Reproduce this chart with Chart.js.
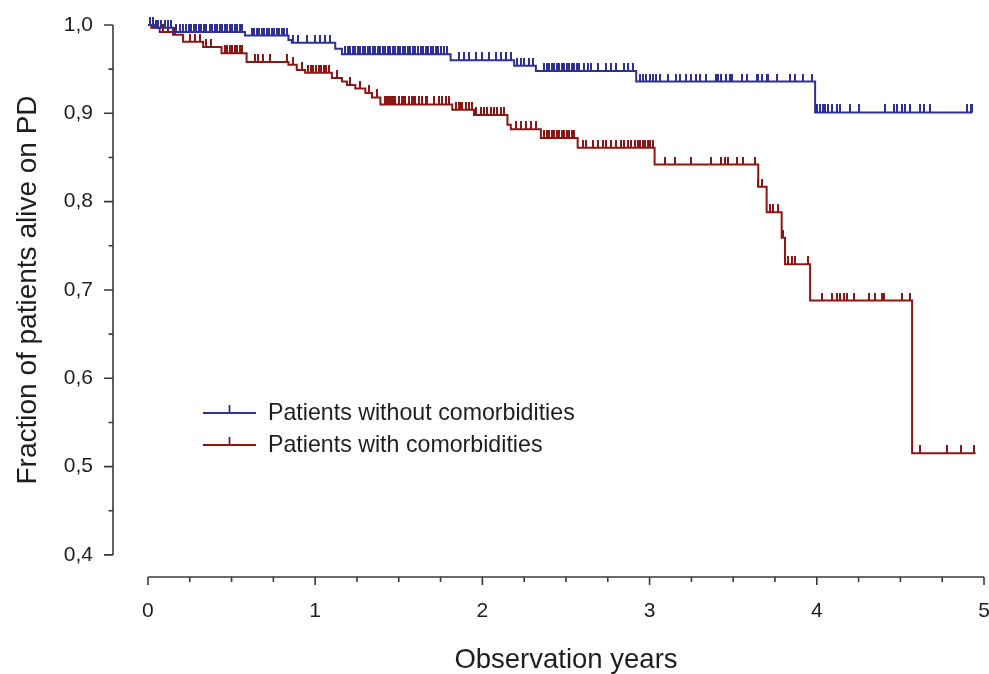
<!DOCTYPE html>
<html>
<head>
<meta charset="utf-8">
<script src="https://cdn.jsdelivr.net/npm/chart.js@4/dist/chart.umd.min.js"></script>
<style>
  html, body { margin: 0; padding: 0; background: #fff; }
  #wrap { width: 989px; height: 674px; position: relative; }
</style>
</head>
<body>
<div id="wrap"><canvas id="kmChart"></canvas></div>
<script>
// Kaplan-Meier steps: time of each drop (years) and survival after it
const blueTimes = [0, 0.04, 0.15, 0.58, 0.84, 0.86, 1.12, 1.16, 1.81, 2.19, 2.32, 2.92, 3.99];
const blueSurv  = [1.0, 0.997, 0.992, 0.988, 0.983, 0.980, 0.973, 0.967, 0.960, 0.954, 0.948, 0.936, 0.901];
const blueEnd = 4.93;

const redTimes = [0, 0.02, 0.07, 0.15, 0.21, 0.33, 0.44, 0.59, 0.84, 0.89, 0.94, 1.10, 1.16, 1.19, 1.24, 1.30,
                  1.34, 1.39, 1.82, 1.95, 2.15, 2.17, 2.35, 2.57, 3.03, 3.65, 3.70, 3.79, 3.81, 3.96, 4.57];
const redSurv  = [1.0, 0.997, 0.992, 0.989, 0.981, 0.975, 0.968, 0.958, 0.955, 0.949, 0.946, 0.940, 0.936, 0.932, 0.928, 0.923,
                  0.918, 0.910, 0.904, 0.898, 0.887, 0.882, 0.872, 0.861, 0.842, 0.817, 0.788, 0.759, 0.729, 0.688, 0.515];
const redEnd = 4.95;

// censored observations (years)
const blueCensor = [0.01, 0.03, 0.05, 0.06, 0.08, 0.10, 0.12, 0.14, 0.17, 0.19, 0.21, 0.23, 0.245, 0.26, 0.275,
  0.29, 0.305, 0.32, 0.335, 0.35, 0.37, 0.385, 0.40, 0.415, 0.43, 0.445, 0.46, 0.475, 0.49, 0.505, 0.52, 0.535,
  0.55, 0.565, 0.62, 0.635, 0.65, 0.665, 0.68, 0.695, 0.71, 0.725, 0.74, 0.755, 0.77, 0.785, 0.80, 0.815, 0.83,
  0.87, 0.90, 0.95, 1.00, 1.03, 1.06, 1.09, 1.18, 1.195, 1.21, 1.225, 1.24, 1.255, 1.27, 1.285, 1.30, 1.315,
  1.33, 1.345, 1.36, 1.375, 1.39, 1.405, 1.42, 1.435, 1.45, 1.465, 1.48, 1.495, 1.51, 1.525, 1.54, 1.555, 1.57,
  1.585, 1.60, 1.615, 1.63, 1.645, 1.66, 1.675, 1.69, 1.705, 1.72, 1.735, 1.75, 1.77, 1.79, 1.86, 1.89, 1.92,
  1.96, 2.00, 2.04, 2.08, 2.11, 2.14, 2.17, 2.21, 2.23, 2.25, 2.28, 2.30, 2.37, 2.385, 2.40, 2.415, 2.43, 2.445,
  2.46, 2.475, 2.49, 2.505, 2.52, 2.535, 2.55, 2.565, 2.58, 2.61, 2.63, 2.65, 2.69, 2.74, 2.77, 2.80, 2.85,
  2.87, 2.90, 2.94, 2.96, 2.98, 3.00, 3.02, 3.04, 3.06, 3.11, 3.16, 3.18, 3.22, 3.25, 3.28, 3.30, 3.34, 3.40,
  3.41, 3.43, 3.46, 3.48, 3.49, 3.55, 3.58, 3.64, 3.65, 3.67, 3.70, 3.71, 3.76, 3.84, 3.87, 3.92, 3.97, 4.00,
  4.02, 4.04, 4.05, 4.07, 4.09, 4.12, 4.14, 4.20, 4.25, 4.41, 4.46, 4.48, 4.51, 4.53, 4.56, 4.62, 4.64, 4.68,
  4.90, 4.92, 4.93];
const redCensor = [0.01, 0.03, 0.06, 0.09, 0.12, 0.16, 0.25, 0.28, 0.31, 0.35, 0.38, 0.46, 0.475, 0.49, 0.505,
  0.52, 0.535, 0.55, 0.565, 0.64, 0.66, 0.69, 0.73, 0.83, 0.87, 0.92, 0.96, 0.975, 0.99, 1.005, 1.02, 1.035,
  1.05, 1.065, 1.08, 1.13, 1.21, 1.27, 1.32, 1.37, 1.42, 1.43, 1.44, 1.45, 1.46, 1.47, 1.48, 1.50, 1.52, 1.53,
  1.54, 1.56, 1.58, 1.59, 1.60, 1.62, 1.64, 1.66, 1.67, 1.71, 1.74, 1.76, 1.78, 1.80, 1.84, 1.86, 1.87, 1.88,
  1.90, 1.92, 1.94, 1.96, 1.99, 2.01, 2.03, 2.05, 2.07, 2.09, 2.11, 2.13, 2.20, 2.23, 2.26, 2.29, 2.32, 2.37,
  2.385, 2.40, 2.415, 2.43, 2.445, 2.46, 2.475, 2.49, 2.505, 2.52, 2.535, 2.55, 2.60, 2.62, 2.66, 2.69, 2.72,
  2.74, 2.77, 2.80, 2.83, 2.85, 2.87, 2.89, 2.91, 2.93, 2.945, 2.96, 2.975, 2.99, 3.005, 3.02, 3.09, 3.15,
  3.25, 3.37, 3.43, 3.45, 3.47, 3.52, 3.56, 3.63, 3.65, 3.67, 3.72, 3.74, 3.77, 3.80, 3.83, 3.85, 3.87, 3.95,
  4.03, 4.09, 4.12, 4.14, 4.16, 4.18, 4.22, 4.31, 4.35, 4.39, 4.40, 4.51, 4.56, 4.62, 4.78, 4.86, 4.94];

const seriesLabels = ['Patients without comorbidities', 'Patients with comorbidities'];

// axis ticks
const xTicks = [0, 1, 2, 3, 4, 5];
const xTickLabels = ['0', '1', '2', '3', '4', '5'];
const xMinor = [0.25, 0.5, 0.75, 1.25, 1.5, 1.75, 2.25, 2.5, 2.75, 3.25, 3.5, 3.75, 4.25, 4.5, 4.75];
const yTicks = [0.4, 0.5, 0.6, 0.7, 0.8, 0.9, 1.0];
const yTickLabels = ['0,4', '0,5', '0,6', '0,7', '0,8', '0,9', '1,0'];
const yMinor = [0.45, 0.55, 0.65, 0.75, 0.85, 0.95];

const BLUE = '#2e3192';
const RED = '#8c1616';
const AXIS = '#3a3a3a';
const TEXT = '#1e1e1e';
const FONT = '"Liberation Sans", Arial, sans-serif';

function stepData(times, surv, end) {
    const pts = times.map(function (t, i) { return { x: t, y: surv[i] }; });
    pts.push({ x: end, y: surv[surv.length - 1] });
    return pts;
}

function levelAt(times, surv, t) {
    let v = surv[0];
    for (let i = 0; i < times.length; i++) {
        if (times[i] <= t) v = surv[i];
    }
    return v;
}

function censorData(list, times, surv) {
    return list.map(function (t) { return { x: t, y: levelAt(times, surv, t) }; });
}

// small upward tick used for censor marks
function censorMark(color) {
    const c = document.createElement('canvas');
    c.width = 2;
    c.height = 16;
    const g = c.getContext('2d');
    g.fillStyle = color;
    g.fillRect(0, 0, 2, 8);
    return c;
}

const axesPlugin = {
    id: 'kmAxes',
    beforeDatasetsDraw(chart) {
        const ctx = chart.ctx;
        const x = chart.scales.x;
        const y = chart.scales.y;
        ctx.save();
        ctx.strokeStyle = AXIS;
        ctx.fillStyle = TEXT;
        ctx.lineWidth = 1.6;

        // y axis
        const ax = x.left;
        ctx.beginPath();
        ctx.moveTo(ax, y.getPixelForValue(1.0));
        ctx.lineTo(ax, y.getPixelForValue(0.4));
        yTicks.forEach(function (v) {
            const py = y.getPixelForValue(v);
            ctx.moveTo(ax - 9, py);
            ctx.lineTo(ax, py);
        });
        yMinor.forEach(function (v) {
            const py = y.getPixelForValue(v);
            ctx.moveTo(ax - 4.5, py);
            ctx.lineTo(ax, py);
        });
        ctx.stroke();
        ctx.font = '21px ' + FONT;
        ctx.textAlign = 'right';
        ctx.textBaseline = 'middle';
        yTicks.forEach(function (v, i) {
            ctx.fillText(yTickLabels[i], ax - 20, y.getPixelForValue(v));
        });

        // x axis (detached, below the plot)
        const ay = y.bottom;
        ctx.beginPath();
        ctx.moveTo(x.getPixelForValue(0), ay);
        ctx.lineTo(x.getPixelForValue(5), ay);
        xTicks.forEach(function (v) {
            const px = x.getPixelForValue(v);
            ctx.moveTo(px, ay);
            ctx.lineTo(px, ay + 8);
        });
        xMinor.forEach(function (v) {
            const px = x.getPixelForValue(v);
            ctx.moveTo(px, ay);
            ctx.lineTo(px, ay + 5);
        });
        ctx.stroke();
        ctx.textAlign = 'center';
        xTicks.forEach(function (v, i) {
            ctx.fillText(xTickLabels[i], x.getPixelForValue(v), ay + 34);
        });

        // axis titles
        ctx.font = '27.5px ' + FONT;
        ctx.fillText('Observation years', (x.getPixelForValue(0) + x.getPixelForValue(5)) / 2, ay + 83);
        ctx.font = '28px ' + FONT;
        ctx.translate(28, y.getPixelForValue(0.7));
        ctx.rotate(-Math.PI / 2);
        ctx.fillText('Fraction of patients alive on PD', 0, 0);
        ctx.restore();
    },
    afterDatasetsDraw(chart) {
        const ctx = chart.ctx;
        const rows = [
            { color: BLUE, label: chart.data.datasets[0].label, y: 413 },
            { color: RED, label: chart.data.datasets[2].label, y: 445 }
        ];
        ctx.save();
        ctx.lineWidth = 1.8;
        ctx.font = '23.2px ' + FONT;
        ctx.textAlign = 'left';
        ctx.textBaseline = 'middle';
        rows.forEach(function (r) {
            ctx.strokeStyle = r.color;
            ctx.beginPath();
            ctx.moveTo(203, r.y);
            ctx.lineTo(256, r.y);
            ctx.moveTo(229.5, r.y);
            ctx.lineTo(229.5, r.y - 8);
            ctx.stroke();
            ctx.fillStyle = TEXT;
            ctx.fillText(r.label, 268, r.y + 1);
        });
        ctx.restore();
    }
};

new Chart(document.getElementById('kmChart'), {
    type: 'line',
    data: {
        datasets: [
            {
                label: seriesLabels[0],
                data: stepData(blueTimes, blueSurv, blueEnd),
                stepped: true,
                borderColor: BLUE,
                borderWidth: 2,
                pointRadius: 0,
                fill: false,
                clip: false
            },
            {
                label: seriesLabels[0] + ' (censored)',
                data: censorData(blueCensor, blueTimes, blueSurv),
                showLine: false,
                pointStyle: censorMark(BLUE),
                clip: false
            },
            {
                label: seriesLabels[1],
                data: stepData(redTimes, redSurv, redEnd),
                stepped: true,
                borderColor: RED,
                borderWidth: 2,
                pointRadius: 0,
                fill: false,
                clip: false
            },
            {
                label: seriesLabels[1] + ' (censored)',
                data: censorData(redCensor, redTimes, redSurv),
                showLine: false,
                pointStyle: censorMark(RED),
                clip: false
            }
        ]
    },
    options: {
        responsive: true,
        maintainAspectRatio: false,
        animation: false,
        layout: { padding: { left: 113, right: 4, top: 25, bottom: 97 } },
        plugins: {
            legend: { display: false },
            tooltip: { enabled: false }
        },
        scales: {
            x: { type: 'linear', min: -0.209, max: 5, display: false },
            y: { type: 'linear', min: 0.375, max: 1.0, display: false }
        }
    },
    plugins: [axesPlugin]
});
</script>
</body>
</html>
